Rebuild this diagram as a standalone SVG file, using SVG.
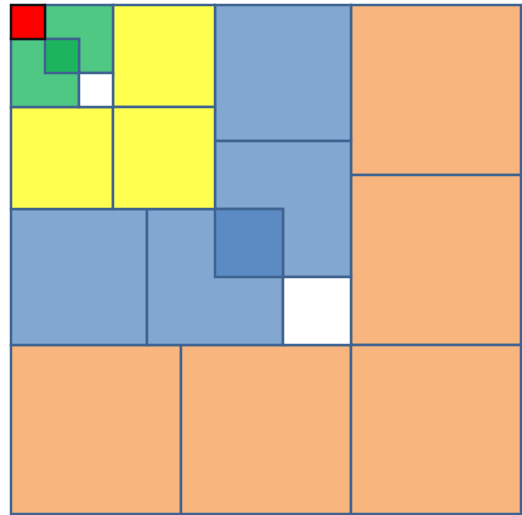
<svg xmlns="http://www.w3.org/2000/svg" width="522" height="515" viewBox="0 0 522 515">
<style>
rect{stroke:#3F6391;stroke-width:2.5}
.o{fill:#F9B57E}.b{fill:#82A7D1}.db{fill:#5B8BC2}.y{fill:#FFFF4F}.g{fill:#4FC884}.dg{fill:#1CB55E}.w{fill:#FFFFFF}.r{fill:#FF0000;stroke:#111111}
</style>
<rect width="522" height="515" fill="#FFFFFF" style="stroke:none"/>
<g id="orange">
<rect class="o" x="351" y="5" width="170" height="170"/>
<rect class="o" x="351" y="175" width="170" height="170"/>
<rect class="o" x="11" y="345" width="170" height="169"/>
<rect class="o" x="181" y="345" width="170" height="169"/>
<rect class="o" x="351" y="345" width="170" height="169"/>
</g>
<g id="blue">
<rect class="b" x="215" y="5" width="136" height="136"/>
<rect class="b" x="215" y="141" width="136" height="136"/>
<rect class="b" x="11" y="209" width="136" height="136"/>
<rect class="b" x="147" y="209" width="136" height="136"/>
<rect class="db" x="215" y="209" width="68" height="68"/>
<rect class="w" x="283" y="277" width="68" height="68"/>
</g>
<g id="yellow">
<rect class="y" x="113" y="5" width="102" height="102"/>
<rect class="y" x="11" y="107" width="102" height="102"/>
<rect class="y" x="113" y="107" width="102" height="102"/>
</g>
<g id="green">
<rect class="g" x="45" y="5" width="68" height="68"/>
<rect class="g" x="11" y="39" width="68" height="68"/>
<rect class="dg" x="45" y="39" width="34" height="34"/>
<rect class="w" x="79" y="73" width="34" height="34"/>
<rect class="r" x="11" y="5" width="34" height="34"/>
</g>
</svg>
